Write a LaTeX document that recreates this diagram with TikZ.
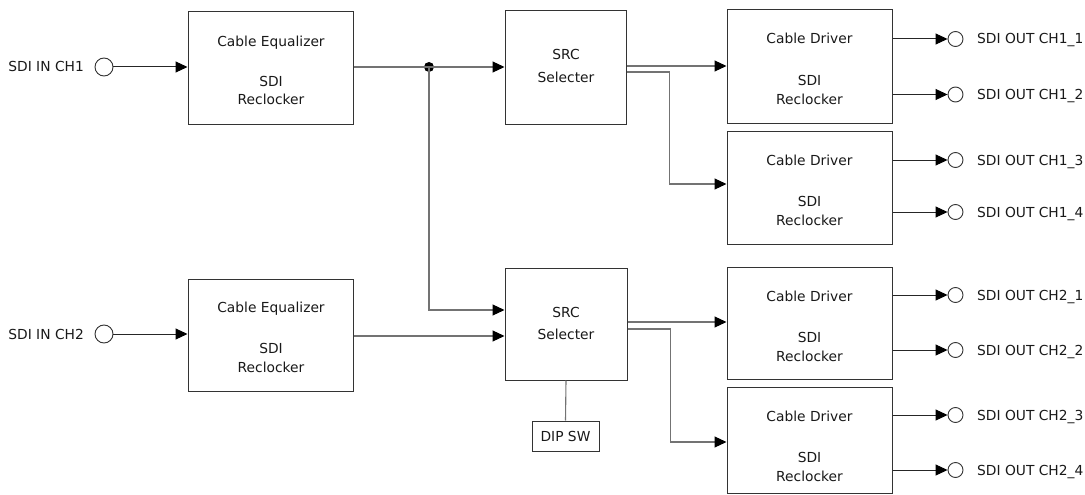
\documentclass[tikz,border=0pt]{standalone}
\usepackage{fontspec}
\setmainfont{DejaVu Sans}
\usetikzlibrary{arrows.meta}
\begin{document}
\begin{tikzpicture}[x=1pt,y=-1pt,
  box/.style={draw=black!80, line width=1pt, inner sep=0pt, fill=white},
  txt/.style={inner sep=0pt, anchor=base, font=\fontsize{13.8}{16}\selectfont, text=black!90},
  lblE/.style={inner sep=0pt, anchor=base east, font=\fontsize{13.8}{16}\selectfont, text=black!90},
  lblW/.style={inner sep=0pt, anchor=base west, font=\fontsize{13.8}{16}\selectfont, text=black!90},
  port/.style={circle, draw=black!80, line width=0.9pt, fill=white, inner sep=0pt},
  jdot/.style={circle, fill=black, inner sep=0pt, minimum size=10pt},
  tip/.style={-{Triangle[length=12pt,width=11pt,color=black]}},
  conn/.style={draw=black!55, line width=1.1pt, tip},
  blk/.style={draw=black!85, line width=1pt, tip},
  plain/.style={draw=black!55, line width=1.1pt}
]
\useasboundingbox (0,0) rectangle (1085,495);

% input ports
\node[port, minimum size=18pt] (in1) at (104,67) {};
\node[port, minimum size=18pt] (in2) at (104,334) {};
\node[lblE] (in1l) at (84,72) {SDI IN CH1};
\node[lblE] (in2l) at (84,339) {SDI IN CH2};

% equalizers
\node[box, minimum width=165pt, minimum height=112pt] (eq1) at (270.5,68) {};
\node[box, minimum width=165pt, minimum height=112pt] (eq2) at (270.5,335) {};
\node[txt] (eq1a) at (271,46.5) {Cable Equalizer};
\node[txt] (eq1b) at (271,87) {SDI};
\node[txt] (eq1c) at (271,105) {Reclocker};
\node[txt] (eq2a) at (271,312.5) {Cable Equalizer};
\node[txt] (eq2b) at (271,353) {SDI};
\node[txt] (eq2c) at (271,372) {Reclocker};

% selectors
\node[box, minimum width=121pt, minimum height=113pt] (src1) at (565.5,67.5) {};
\node[box, minimum width=122pt, minimum height=112pt] (src2) at (566,324) {};
\node[txt] (src1a) at (566,60) {SRC};
\node[txt] (src1b) at (566,82) {Selecter};
\node[txt] (src2a) at (566,317) {SRC};
\node[txt] (src2b) at (566,339) {Selecter};

% DIP switch
\node[box, minimum width=67pt, minimum height=30pt] (dip) at (565.5,436) {};
\node[txt] (dipt) at (565.5,441) {DIP SW};
\draw[plain] (src2.south) -- (dip.north);

% drivers
\foreach \n/\cy/\h/\top/\ya/\yb/\la/\lb in {
  1/66.5/113/10/39/94.5/CH1\_1/CH1\_2,
  2/187.5/113/131/160/212/CH1\_3/CH1\_4,
  3/323/112/267/295/350/CH2\_1/CH2\_2,
  4/440/106/387/415/470/CH2\_3/CH2\_4}{
  \node[box, minimum width=165pt, minimum height=\h pt] (d\n) at (809.5,\cy) {};
  \node[txt] (d\n a) at (809.5,\top+34) {Cable Driver};
  \node[txt] (d\n b) at (809.5,\top+75) {SDI};
  \node[txt] (d\n c) at (809.5,\top+94.5) {Reclocker};
  \node[port, minimum size=15pt] (oa\n) at (955.5,\ya) {};
  \node[port, minimum size=15pt] (ob\n) at (955.5,\yb) {};
  \node[lblW] (la\n) at (977,\ya+5) {SDI OUT \la};
  \node[lblW] (lb\n) at (977,\yb+5) {SDI OUT \lb};
  \draw[blk] (d\n.east |- oa\n) -- (oa\n.west);
  \draw[blk] (d\n.east |- ob\n) -- (ob\n.west);
}

% input connections
\draw[blk] (in1.east) -- (eq1.west |- in1);
\draw[blk] (in2.east) -- (eq2.west |- in2);

% junction and links to selectors
\node[jdot] (j) at (429,67) {};
\draw[conn] (eq1.east |- j) -- (j.center) -- (src1.west |- j);
\draw[conn] (j.center) |- ([yshift=14pt]src2.west);
\draw[conn] ([yshift=-1pt]eq2.east) coordinate (e2o) -- (e2o -| src2.west);

% selector to drivers
\draw[conn] ([yshift=1.5pt]src1.east) coordinate (s1o) -- (s1o -| d1.west);
\draw[conn] ([yshift=-4.5pt]src1.east) -- ++(43,0) |- ([yshift=3.5pt]d2.west);
\draw[conn] ([yshift=2pt]src2.east) coordinate (s2o) -- (s2o -| d3.west);
\draw[conn] ([yshift=-5pt]src2.east) -- ++(43,0) |- ([yshift=-2pt]d4.west);
\end{tikzpicture}
\end{document}
